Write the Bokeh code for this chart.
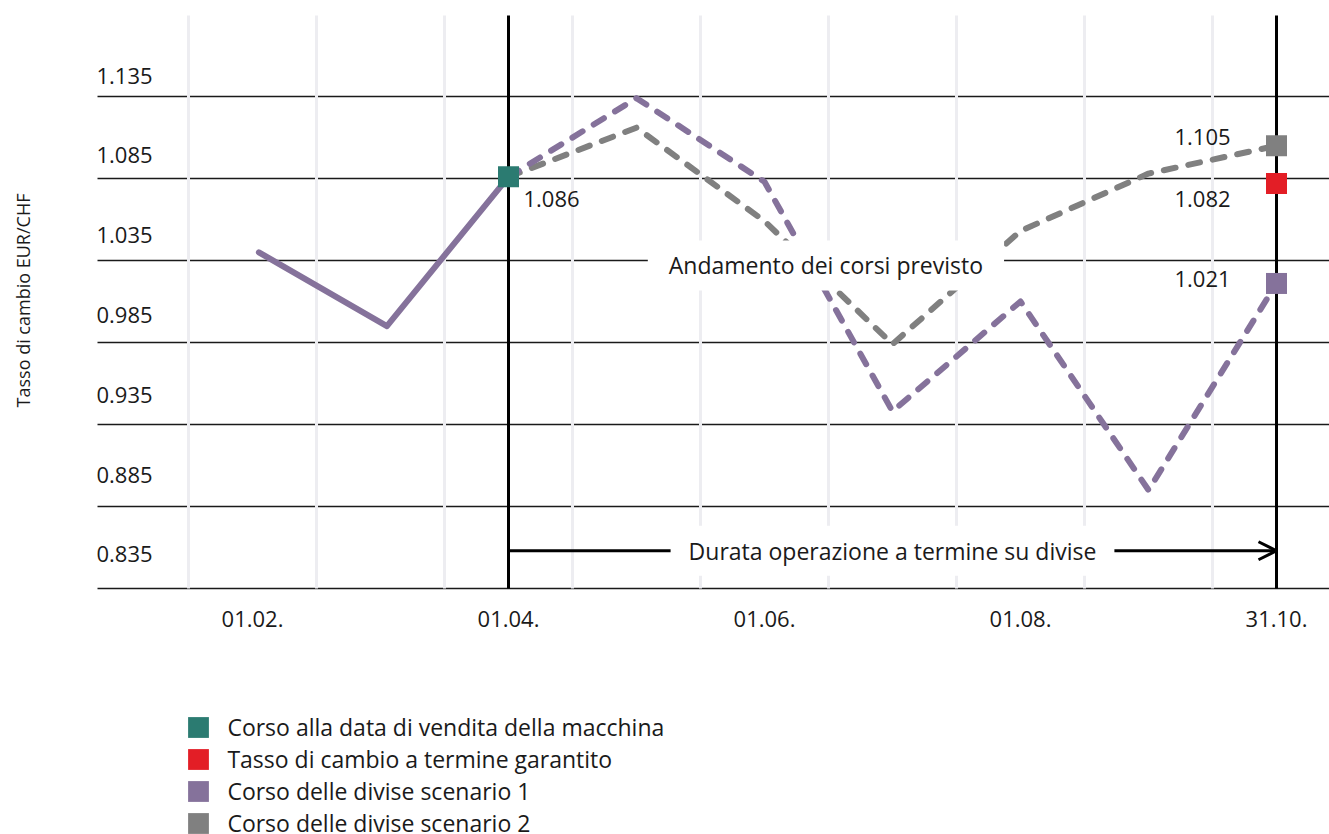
import math
from bokeh.plotting import figure
from bokeh.models import (Range1d, Label, Arrow, OpenHead, Legend, LegendItem)
from bokeh.core.properties import value
from bokeh.embed import file_html
from bokeh.resources import INLINE

# ---------------- data ----------------
x_tick_pos = [0, 2, 4, 6, 8]
x_tick_labels = ["01.02.", "01.04.", "01.06.", "01.08.", "31.10."]
month_bounds = [-0.5, 0.5, 1.5, 2.5, 3.5, 4.5, 5.5, 6.5, 7.5]

y_ticks = [0.835, 0.885, 0.935, 0.985, 1.035, 1.085, 1.135]
y_tick_labels = ["0.835", "0.885", "0.935", "0.985", "1.035", "1.085", "1.135"]

hist_x = [0.05, 1.05, 2.0]
hist_rate = [1.040, 0.995, 1.086]

scen_x = [2, 3, 4, 5, 6, 7, 8]
scen1_rate = [1.086, 1.134, 1.083, 0.943, 1.010, 0.895, 1.021]
scen2_rate = [1.086, 1.116, 1.059, 0.984, 1.053, 1.088, 1.105]

sale_x, sale_rate = 2, 1.086
fwd_x, fwd_rate = 8, 1.082
period_start, period_end = 2, 8

legend_labels = ["Corso alla data di vendita della macchina",
                 "Tasso di cambio a termine garantito",
                 "Corso delle divise scenario 1",
                 "Corso delle divise scenario 2"]

PURPLE = "#85729b"
GRAY = "#808080"
GREEN = "#2b7b71"
RED = "#e31e26"
TXT = "#1a1a1a"
FONT = "Open Sans"
FS = "22px"
FS_T = "23px"
DY = -9   # baseline correction for text glyphs

# ---------------- figure (frame covers the whole canvas) ----------------
W, H = 1329, 834
X0, X1 = -1.96875, 8.41406          # canvas left / right in month units
Y0, Y1 = 0.685, 1.19354             # canvas bottom / top in rate units
XL = -1.2109                        # left edge of the plotting area
YB, YT = 0.835, 1.18439             # bottom / top of the plotting area

p = figure(width=W, height=H, x_range=Range1d(X0, X1), y_range=Range1d(Y0, Y1),
           output_backend="svg", toolbar_location=None,
           x_axis_location=None, y_axis_location=None,
           min_border=0, min_border_left=0, min_border_right=0,
           min_border_top=0, min_border_bottom=0)
p.outline_line_color = None
p.grid.visible = False
p.background_fill_color = "white"

# horizontal rate lines
n = len(y_ticks)
p.segment(x0=[XL] * n, y0=y_ticks, x1=[X1] * n, y1=y_ticks,
          line_color="#1a1a1a", line_width=1.3)
# light month separators (drawn over the rate lines)
m = len(month_bounds)
p.segment(x0=month_bounds, y0=[YB] * m, x1=month_bounds, y1=[YT] * m,
          line_color="#ededf1", line_width=3)
# black period markers
p.segment(x0=[period_start, period_end], y0=[YB, YB],
          x1=[period_start, period_end], y1=[YT, YT],
          line_color="black", line_width=3)

# x tick labels
p.text(x=x_tick_pos, y=[YB] * len(x_tick_pos), text=x_tick_labels,
       y_offset=39 + DY, text_align="center", text_baseline="alphabetic",
       text_font=value(FONT), text_font_size=FS, text_color=TXT)

# y tick labels (above the lines)
y_off = [-12 - 2.2 * (n - 1 - i) + DY for i in range(n)]
p.text(x=[XL] * n, y=y_ticks, text=y_tick_labels,
       x_offset=-1, y_offset=y_off, text_align="left", text_baseline="alphabetic",
       text_font=value(FONT), text_font_size=FS, text_color=TXT)

# lines
p.line(hist_x, hist_rate, line_color=PURPLE, line_width=6,
       line_cap="round", line_join="round")
p.line(scen_x, scen2_rate, line_color=GRAY, line_width=6, line_dash="12 13",
       line_cap="round", line_join="round")
p.line(scen_x, scen1_rate, line_color=PURPLE, line_width=6, line_dash="12 13",
       line_cap="round", line_join="round")

# markers
def square(x, y, color):
    return p.rect(x=[x], y=[y], width=21, height=21, width_units="screen",
                  height_units="screen", fill_color=color, line_color=None)

r_sale = square(sale_x, sale_rate, GREEN)
r_s2 = square(scen_x[-1], scen2_rate[-1], GRAY)
r_fwd = square(fwd_x, fwd_rate, RED)
r_s1 = square(scen_x[-1], scen1_rate[-1], PURPLE)

# value labels
def vlabel(x, y, dx, dy):
    p.text(x=[x], y=[y], text=[f"{y:.3f}"], x_offset=dx, y_offset=dy + DY,
           text_align="left", text_baseline="alphabetic",
           text_font=value(FONT), text_font_size=FS, text_color=TXT)

vlabel(sale_x, sale_rate, 15, 31)
vlabel(scen_x[-1], scen2_rate[-1], -102, 0)
vlabel(fwd_x, fwd_rate, -102, 25)
vlabel(scen_x[-1], scen1_rate[-1], -102, 5)

# annotations
p.add_layout(Label(x=4.48, y=1.032, text="Andamento dei corsi previsto",
                   text_align="center", text_baseline="middle",
                   text_font=FONT, text_font_size=FS_T, text_color=TXT,
                   background_fill_color="white", padding=(21, 9)))

p.add_layout(Arrow(x_start=period_start, y_start=0.858, x_end=period_end, y_end=0.858,
                   line_color="black", line_width=3,
                   end=OpenHead(size=18, line_width=3, line_color="black")))
p.add_layout(Label(x=5.0, y=0.858, text="Durata operazione a termine su divise",
                   text_align="center", text_baseline="middle",
                   text_font=FONT, text_font_size=FS_T, text_color=TXT,
                   background_fill_color="white", padding=(18, 9)))

p.add_layout(Label(x=22, y=H - 300, x_units="screen", y_units="screen",
                   angle=math.pi / 2, text="Tasso di cambio EUR/CHF",
                   text_align="center", text_baseline="middle",
                   text_font=FONT, text_font_size="18px", text_color=TXT))

legend = Legend(items=[LegendItem(label=legend_labels[0], renderers=[r_sale]),
                       LegendItem(label=legend_labels[1], renderers=[r_fwd]),
                       LegendItem(label=legend_labels[2], renderers=[r_s1]),
                       LegendItem(label=legend_labels[3], renderers=[r_s2])],
                location=(185.4, -5), orientation="vertical",
                glyph_width=26, glyph_height=26, label_height=26, spacing=0,
                label_standoff=16, padding=0, margin=0,
                border_line_color=None, background_fill_alpha=0,
                label_text_font=FONT, label_text_font_size=FS_T, label_text_color=TXT)
p.add_layout(legend)

open("out.html", "w").write(file_html(p, INLINE))
